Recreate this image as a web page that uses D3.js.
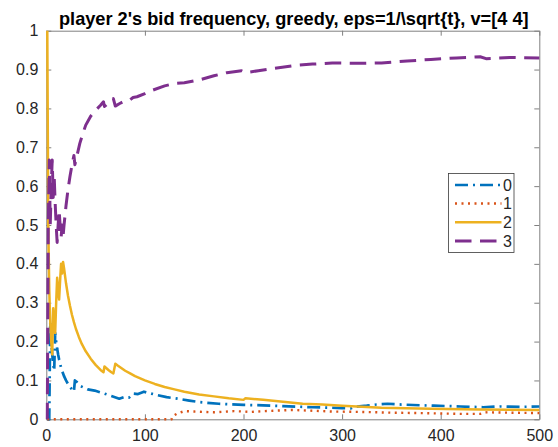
<!DOCTYPE html>
<html>
<head>
<meta charset="utf-8">
<script src="https://cdn.jsdelivr.net/npm/d3@7"></script>
<style>
  body { margin: 0; background: #fff; }
  svg { display: block; font-family: "Liberation Sans", Arial, Helvetica, sans-serif; }
</style>
</head>
<body>
<svg id="chart" width="558" height="447"></svg>
<script>
// Cumulative bid frequencies of player 2 over rounds t = 1..500 (one step/value array per bid)
const steps0 = [1,2,3,4,5,6,7,8,9,10,11,12,13,14,15,16,17,18,20,22,24,26,28,29,32,35,42,49,59,66,74,80,84,88,93,99,105,113,122,133,145,156,175,200,220,240,270,300,309,312,325,335,346,360,380,393,420,443,460,480,500];
const bid0 = [0,0,0,.25,.2,.167,.143,.125,.222,.2,.182,.167,.154,.143,.133,.125,.118,.111,.1,.091,.083,.077,.071,.1,.094,.085,.077,.074,.066,.06,.053,.058,.056,.066,.065,.071,.067,.062,.057,.053,.048,.044,.04,.037,.036,.034,.031,.029,.028,.032,.035,.038,.04,.038,.036,.035,.033,.031,.033,.032,.033];

const steps1 = [1,127,128,133,140,150,170,190,200,207,230,250,270,290,320,350,380,400,420,440,445,470,500];
const bid1 = [0,0,.008,.015,.021,.02,.018,.021,.02,.019,.022,.024,.022,.02,.019,.017,.016,.015,.014,.014,.018,.017,.016];

const steps2 = [1,2,3,4,5,6,7,8,9,10,11,12,13,14,15,16,17,18,20,22,24,26,28,30,33,36,40,45,50,55,58,59,63,66,68,70,72,76,80,85,90,100,110,120,130,140,155,170,185,200,202,220,240,260,280,300,340,390,440,500];
const bid2 = [1,.5,.333,.25,.2,.167,.286,.25,.222,.3,.364,.333,.308,.357,.4,.375,.405,.389,.35,.318,.292,.269,.25,.233,.212,.194,.175,.156,.14,.127,.121,.136,.127,.121,.118,.143,.139,.132,.125,.118,.111,.1,.091,.083,.077,.071,.064,.059,.054,.05,.054,.05,.045,.040,.038,.035,.030,.027,.025,.024];

const steps3 = [1,2,3,4,5,6,7,8,9,10,11,12,13,14,15,16,17,18,20,22,24,26,28,29,31,34,37,40,45,50,55,58,59,63,68,70,74,80,85,88,92,100,108,120,130,140,156,170,183,198,202,215,230,254,270,290,315,340,366,390,416,440,446,470,500];
const bid3 = [0,.5,.667,.5,.6,.667,.571,.625,.556,.5,.455,.5,.538,.5,.467,.5,.471,.5,.55,.591,.625,.654,.679,.655,.677,.71,.735,.757,.78,.795,.808,.817,.805,.814,.825,.806,.812,.82,.822,.828,.83,.838,.847,.858,.864,.866,.874,.884,.892,.897,.892,.897,.903,.911,.914,.917,.916,.917,.922,.926,.930,.933,.928,.931,.930];

const bidLabels = ["0", "1", "2", "3"];
const xTicks = [0, 100, 200, 300, 400, 500];
const yTicks = [0, 0.1, 0.2, 0.3, 0.4, 0.5, 0.6, 0.7, 0.8, 0.9, 1];
const yTickLabels = ["0", "0.1", "0.2", "0.3", "0.4", "0.5", "0.6", "0.7", "0.8", "0.9", "1"];
const titleText = "player 2's bid frequency, greedy, eps=1/\\sqrt{t}, v=[4 4]";

// Line styles per bid (MATLAB-like default colour order)
const styles = [
  { color: "#0072BD", dash: "13,5,2,5", width: 2.7 },
  { color: "#D95319", dash: "2,4.5",    width: 2.4 },
  { color: "#EDB120", dash: null,       width: 2.5 },
  { color: "#7E2F8E", dash: "16.5,8.5", width: 3   }
];

const series = [
  { steps: steps0, values: bid0 },
  { steps: steps1, values: bid1 },
  { steps: steps2, values: bid2 },
  { steps: steps3, values: bid3 }
];

const svg = d3.select("#chart");
const plot = { left: 46.3, right: 539.3, top: 30.7, bottom: 419.3 };
const x = d3.scaleLinear().domain([0, 500]).range([plot.left, plot.right]);
const y = d3.scaleLinear().domain([0, 1]).range([plot.bottom, plot.top]);

const axisColor = "#808080";
const textColor = "#262626";
const labelSize = 16;
const tick = 5;

function styleAxis(g) {
  g.select(".domain").attr("stroke", axisColor).attr("stroke-width", 1);
  g.selectAll(".tick line").attr("stroke", axisColor).attr("stroke-width", 1);
  g.selectAll(".tick text").attr("fill", textColor).attr("font-size", labelSize);
  g.attr("font-family", null).attr("font-size", null);
}

// Box axes with inward ticks on all four sides
svg.append("g")
  .attr("transform", `translate(0,${plot.bottom})`)
  .call(d3.axisBottom(x).tickValues(xTicks).tickSizeInner(-tick).tickSizeOuter(0).tickPadding(10))
  .call(styleAxis);
svg.append("g")
  .attr("transform", `translate(0,${plot.top})`)
  .call(d3.axisTop(x).tickValues(xTicks).tickSizeInner(-tick).tickSizeOuter(0).tickFormat(() => ""))
  .call(styleAxis);
svg.append("g")
  .attr("transform", `translate(${plot.left},0)`)
  .call(d3.axisLeft(y).tickValues(yTicks).tickSizeInner(-tick).tickSizeOuter(0).tickPadding(8)
    .tickFormat((d, i) => yTickLabels[i]))
  .call(styleAxis);
svg.append("g")
  .attr("transform", `translate(${plot.right},0)`)
  .call(d3.axisRight(y).tickValues(yTicks).tickSizeInner(-tick).tickSizeOuter(0).tickFormat(() => ""))
  .call(styleAxis);

// Frequency lines
const line = d3.line()
  .x(d => x(d[0]))
  .y(d => y(d[1]));

series.forEach((s, i) => {
  const pts = s.steps.map((t, k) => [t, s.values[k]]);
  svg.append("path")
    .datum(pts)
    .attr("fill", "none")
    .attr("stroke", styles[i].color)
    .attr("stroke-width", styles[i].width)
    .attr("stroke-linejoin", "round")
    .attr("stroke-dasharray", styles[i].dash)
    .attr("d", line);
});

// Title
svg.append("text")
  .attr("x", (plot.left + plot.right) / 2 + 1)
  .attr("y", 24.5)
  .attr("text-anchor", "middle")
  .attr("font-size", 18.2)
  .attr("font-weight", "bold")
  .attr("fill", "#000")
  .text(titleText);

// Legend
const legend = svg.append("g");
legend.append("rect")
  .attr("x", 448.5).attr("y", 173.5)
  .attr("width", 65.5).attr("height", 79)
  .attr("fill", "#fff")
  .attr("stroke", "#3a3a3a")
  .attr("stroke-width", 0.8);
const rowY = [185, 203.5, 222.3, 241];
bidLabels.forEach((lab, i) => {
  legend.append("line")
    .attr("x1", 455).attr("x2", 501.5)
    .attr("y1", rowY[i]).attr("y2", rowY[i])
    .attr("stroke", styles[i].color)
    .attr("stroke-width", styles[i].width)
    .attr("stroke-dasharray", styles[i].dash);
  legend.append("text")
    .attr("x", 503).attr("y", rowY[i])
    .attr("dy", "0.36em")
    .attr("font-size", labelSize)
    .attr("fill", textColor)
    .text(lab);
});
</script>
</body>
</html>
